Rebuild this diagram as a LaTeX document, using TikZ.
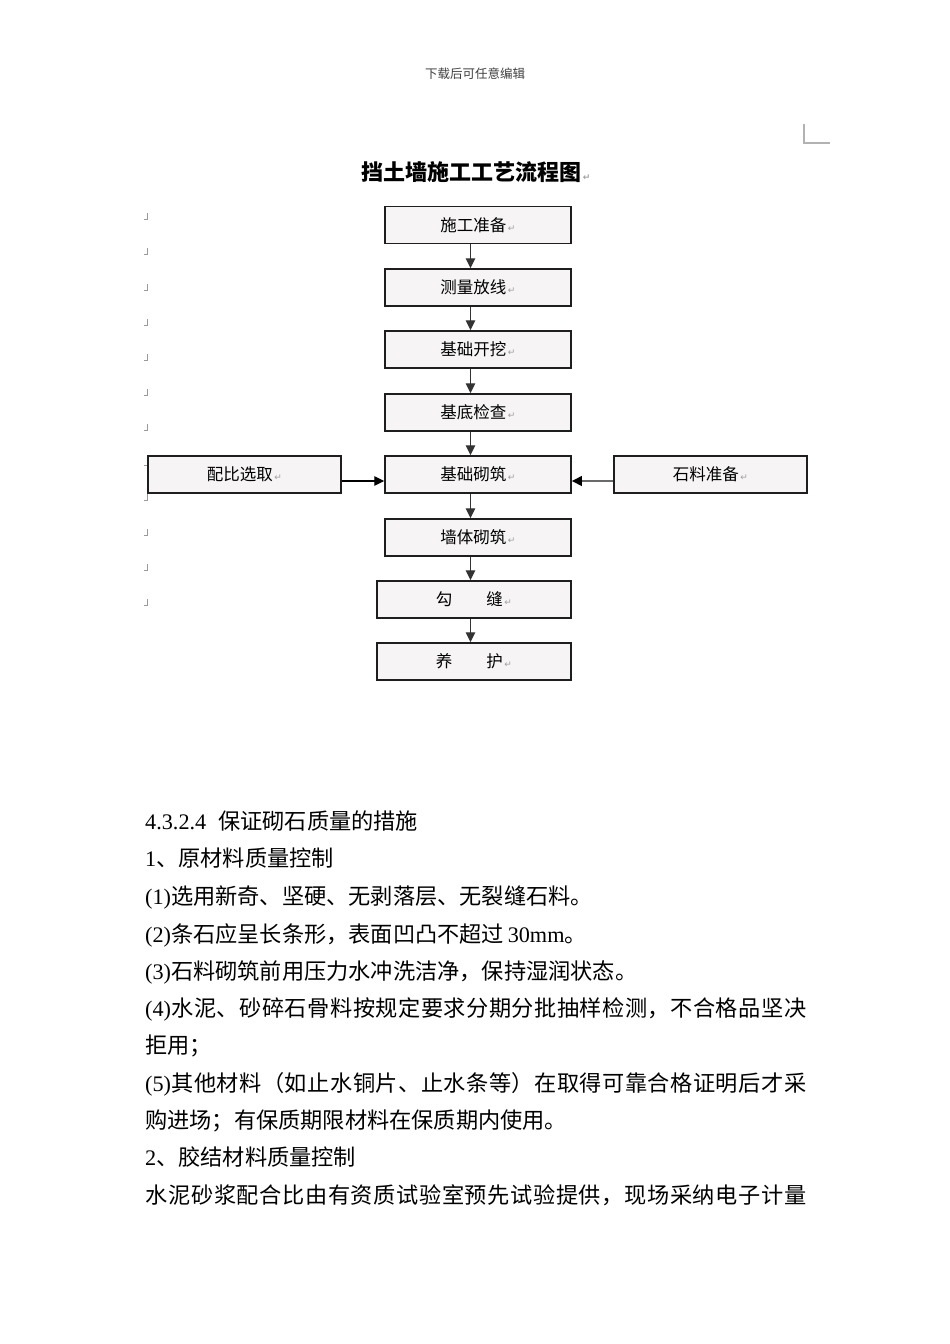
\documentclass[tikz,border=0pt]{standalone}
\usepackage{fontspec}
\setmainfont{Liberation Serif}
\newfontfamily\cjk{Noto Sans CJK SC}
\newfontfamily\sym{DejaVu Sans}
\usetikzlibrary{arrows.meta}
\definecolor{boxline}{HTML}{1E1E1E}
\definecolor{boxfill}{HTML}{F6F4F4}
\definecolor{arrowgray}{HTML}{333333}
\definecolor{lightarrow}{HTML}{6A6A6A}
\definecolor{retgray}{HTML}{A0A0A0}
\definecolor{markgray}{HTML}{9A9A9A}
\newcommand\retm{{\sym\fontsize{9}{9}\selectfont\color{retgray}\,↵}}
\def\spreadtxt#1{\spreadi#1\relax}
\def\spreadi#1{\ifx#1\relax\else\hskip0pt plus 1pt minus 0.3pt\relax #1\expandafter\spreadi\fi}
\begin{document}
\begin{tikzpicture}[x=1pt,y=-1pt,
  box/.style={draw=boxline, line width=1.5pt, fill=boxfill, minimum height=37pt, inner sep=0pt,
    font=\cjk\fontsize{16.5}{16.5}\selectfont},
  flow/.style={draw=arrowgray, line width=1.4pt, -{Triangle[length=10pt,width=9.5pt]}},
  flowk/.style={draw=black, line width=1.3pt, -{Triangle[length=10pt,width=9.5pt]}},
  flowg/.style={draw=lightarrow, line width=2pt, arrows={-{Triangle[length=10pt,width=9.5pt,color=black]}}},
  body/.style={anchor=base west, inner sep=0pt, font=\fontsize{22.2}{22.2}\selectfont},
  pmark/.style={draw=markgray, line width=0.8pt}]
\useasboundingbox (0,0) rectangle (950,1344);
\fill[white] (0,0) rectangle (950,1344);

% header
\node[font=\cjk\fontsize{12.5}{12.5}\selectfont, text=black!75] (hdr) at (475,74) {下载后可任意编辑};
% corner mark
\draw[draw=black!30, line width=1.2pt] (804,124) -- (804,143) -- (830,143);

% title
\node[font=\cjk\bfseries\fontsize{22}{22}\selectfont, inner sep=0pt] (title) at (476,172) {挡土墙施工工艺流程图\retm};

% empty paragraph marks on the left
\foreach \yy in {217,252,288,323,358,393,428,463,498,533,568,603}{
  \draw[pmark] (147,\yy-4) -- (147,\yy+2) -- (143.5,\yy+2);
}

% boxes
\node[box, minimum width=186pt] (n1) at (478,225) {施工准备\retm};
\node[box, minimum width=186pt] (n2) at (478,287.5) {测量放线\retm};
\node[box, minimum width=186pt] (n3) at (478,349.5) {基础开挖\retm};
\node[box, minimum width=186pt] (n4) at (478,412.5) {基底检查\retm};
\node[box, minimum width=186pt] (n5) at (478,474.5) {基础砌筑\retm};
\node[box, minimum width=193pt] (pb) at (244.5,474.5) {配比选取\retm};
\node[box, minimum width=193pt] (sl) at (710.5,474.5) {石料准备\retm};
\node[box, minimum width=186pt] (n6) at (478,537.5) {墙体砌筑\retm};
\node[box, minimum width=194pt] (n7) at (474,599.5) {勾\hspace{34pt}缝\retm};
\node[box, minimum width=194pt] (n8) at (474,661.5) {养\hspace{34pt}护\retm};

% connectors
\coordinate (ax) at (470.5,0);
\coordinate (ay) at (0,481);
\draw[flow] (n1.south -| ax) -- (n2.north -| ax);
\draw[flow] (n2.south -| ax) -- (n3.north -| ax);
\draw[flow] (n3.south -| ax) -- (n4.north -| ax);
\draw[flow] (n4.south -| ax) -- (n5.north -| ax);
\draw[flow] (n5.south -| ax) -- (n6.north -| ax);
\draw[flow] (n6.south -| ax) -- (n7.north -| ax);
\draw[flow] (n7.south -| ax) -- (n8.north -| ax);
\draw[flowk] (pb.east |- ay) -- (n5.west |- ay);
\draw[flowg] (sl.west |- ay) -- (n5.east |- ay);

% body text
\node[body] (t1) at (145,829.4) {4.3.2.4\hspace{12pt}{\cjk 保证砌石质量的措施}};
\node[body] (t2) at (145,866.4) {1{\cjk 、原材料质量控制}};
\node[body] (t3) at (145,904.4) {(1){\cjk 选用新奇、坚硬、无剥落层、无裂缝石料。}};
\node[body] (t4) at (145,942.4) {(2){\cjk 条石应呈长条形，表面凹凸不超过}\,30mm{\cjk 。}};
\node[body] (t5) at (145,979.4) {(3){\cjk 石料砌筑前用压力水冲洗洁净，保持湿润状态。}};
\node[body] (t6) at (145,1016.4) {\makebox[661pt][s]{(4){\cjk\spreadtxt{水泥、砂碎石骨料按规定要求分期分批抽样检测，不合格品坚决}}}};
\node[body] (t7) at (145,1053.4) {{\cjk 拒用；}};
\node[body] (t8) at (145,1091.4) {\makebox[661pt][s]{(5){\cjk\spreadtxt{其他材料（如止水铜片、止水条等）在取得可靠合格证明后才采}}}};
\node[body] (t9) at (145,1128.4) {{\cjk 购进场；有保质期限材料在保质期内使用。}};
\node[body] (t10) at (145,1165.4) {2{\cjk 、胶结材料质量控制}};
\node[body] (t11) at (145,1203.4) {\makebox[661pt][s]{\cjk\spreadtxt{水泥砂浆配合比由有资质试验室预先试验提供，现场采纳电子计量}}};
\end{tikzpicture}
\end{document}
